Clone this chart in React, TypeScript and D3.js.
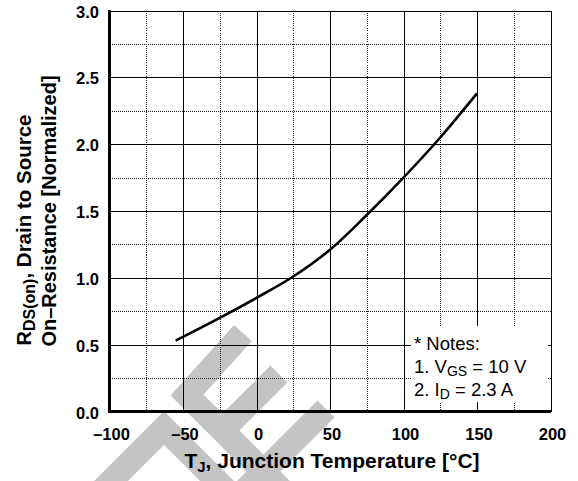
import React from 'react';
import * as d3 from 'd3';

// R_DS(on) normalized vs junction temperature
const temps = [-55, -25, 0, 25, 50, 75, 100, 125, 150];
const rdsOn = [0.53, 0.70, 0.85, 1.01, 1.21, 1.47, 1.75, 2.05, 2.38];

const xTicks = [-100, -50, 0, 50, 100, 150, 200];
const xMinor = [-75, -25, 25, 75, 125, 175];
const yTicks = [0, 0.5, 1.0, 1.5, 2.0, 2.5, 3.0];
const yMinor = [0.25, 0.75, 1.25, 1.75, 2.25, 2.75];

const W = 578, H = 481;
const left = 109.5, right = 550.5, top = 10.5, bottom = 411.5;

const FONT = '"Liberation Sans", Arial, Helvetica, sans-serif';

// background watermark strokes (decoration, pixel space)
const watermark = [
  [[100, 492], [164, 428], [228, 492]],
  [[243, 333], [187, 395], [284, 492]],
  [[279, 374], [219, 434]],
  [[326, 409], [244, 491]],
];

export default function App() {
  const x = d3.scaleLinear().domain([-100, 200]).range([left, right]);
  const y = d3.scaleLinear().domain([0, 3]).range([bottom, top]);
  const px = (v: number) => Math.round(x(v)) + 0.5;
  const py = (v: number) => Math.round(y(v)) + 0.5;

  const line = d3.line<number>()
    .x((d, i) => x(temps[i]))
    .y(d => y(d))
    .curve(d3.curveCatmullRom.alpha(0.5));

  const wm = d3.line();
  const fmt = (v: number) => String(v).replace('-', '\u2013');

  return (
    <svg width={W} height={H} style={{ position: 'absolute', left: 0, top: 0 }}
      fontFamily={FONT}>
      <rect width={W} height={H} fill="#fff" />
      {watermark.map((p, i) => (
        <path key={i} d={wm(p as [number, number][]) || ''} fill="none"
          stroke="#c4c4c4" strokeWidth={24} strokeLinejoin="miter" strokeLinecap="butt" />
      ))}

      {/* minor grid */}
      <g shapeRendering="crispEdges">
        {xMinor.map(v => (
          <line key={'xm' + v} x1={px(v)} x2={px(v)} y1={top} y2={bottom}
            stroke="#222" strokeWidth={1} strokeDasharray="1,1" />
        ))}
        {yMinor.map(v => (
          <line key={'ym' + v} x1={left} x2={right} y1={py(v)} y2={py(v)}
            stroke="#222" strokeWidth={1} strokeDasharray="1,1" />
        ))}
        {/* major grid */}
        {xTicks.map(v => (
          <line key={'xg' + v} x1={px(v)} x2={px(v)} y1={top} y2={bottom}
            stroke="#000" strokeWidth={1} />
        ))}
        {yTicks.map(v => (
          <line key={'yg' + v} x1={left} x2={right} y1={py(v)} y2={py(v)}
            stroke="#000" strokeWidth={1} />
        ))}
        {/* frame */}
        <line x1={left} x2={left} y1={top - 0.5} y2={bottom + 1.5} stroke="#000" strokeWidth={3} />
        <line x1={left - 1.5} x2={right + 0.5} y1={bottom} y2={bottom} stroke="#000" strokeWidth={3} />
      </g>

      <path d={line(rdsOn) || ''} fill="none" stroke="#000" strokeWidth={2.6} />

      {/* notes */}
      <rect x={411} y={326} width={137} height={76} fill="#fff" />
      <g fontSize={18.5} fill="#000">
        <text x={414} y={350}>* Notes:</text>
        <text x={414} y={373}>1. V<tspan fontSize={14} dy={3}>GS</tspan><tspan dy={-3}> = 10 V</tspan></text>
        <text x={414} y={396}>2. I<tspan fontSize={14} dy={3}>D</tspan><tspan dy={-3}> = 2.3 A</tspan></text>
      </g>

      {/* tick labels */}
      <g fontSize={16.5} fontWeight="bold" fill="#000">
        {yTicks.map(v => (
          <text key={'yl' + v} x={99} y={y(v) + 7} textAnchor="end">{v.toFixed(1)}</text>
        ))}
        {xTicks.map(v => (
          <text key={'xl' + v} x={x(v) + 2} y={440} textAnchor="middle">{fmt(v)}</text>
        ))}
      </g>

      {/* axis titles */}
      <text x={332} y={468} textAnchor="middle" fontSize={21} fontWeight="bold">
        T<tspan fontSize={15} dy={4}>J</tspan><tspan dy={-4}>, Junction Temperature [°C]</tspan>
      </text>
      <g fontSize={20} fontWeight="bold">
        <text transform={`translate(31,${(top + bottom) / 2 + 19}) rotate(-90)`} textAnchor="middle">
          R<tspan fontSize={16} dy={4}>DS(on)</tspan><tspan dy={-4} fontSize={20.5}>, Drain to Source</tspan>
        </text>
        <text transform={`translate(56,${(top + bottom) / 2}) rotate(-90)`} textAnchor="middle">
          On–Resistance [Normalized]
        </text>
      </g>
    </svg>
  );
}
